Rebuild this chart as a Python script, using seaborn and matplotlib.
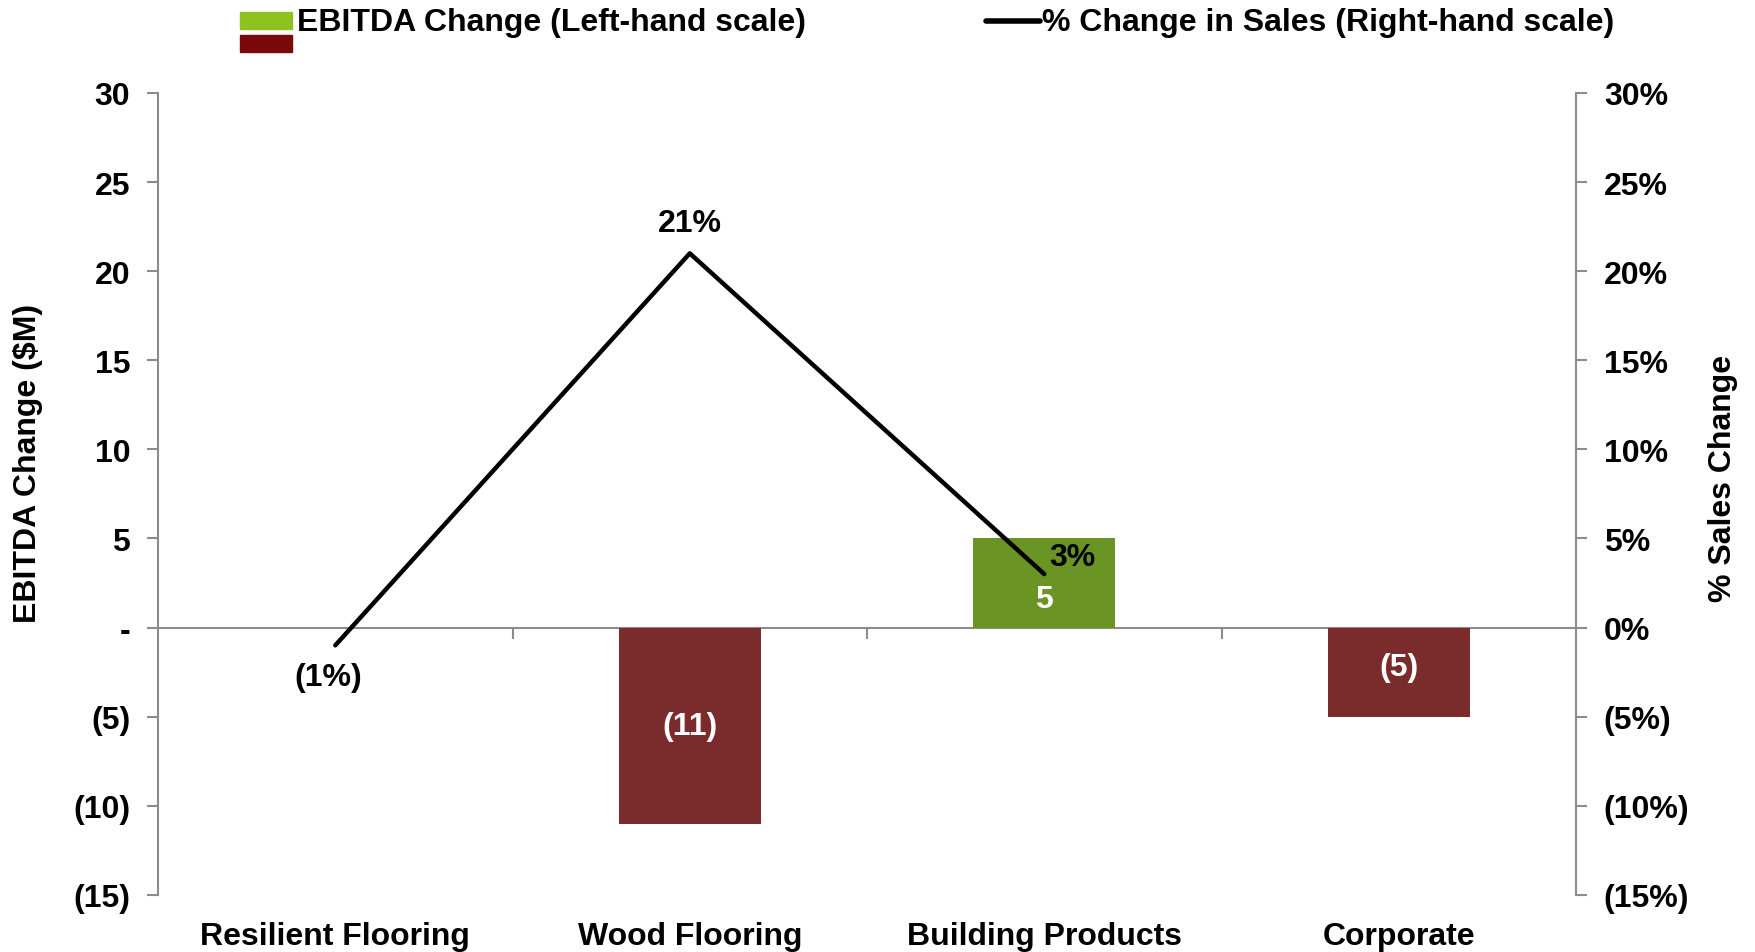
import numpy as np
import pandas as pd
import matplotlib
matplotlib.use("Agg")
import matplotlib.pyplot as plt
from matplotlib.patches import Rectangle
from matplotlib.lines import Line2D
import seaborn as sns

categories = ["Resilient Flooring", "Wood Flooring", "Building Products", "Corporate"]
ebitda_change = [0, -11, 5, -5]
ebitda_labels = ["", "(11)", "5", "(5)"]
sales_change = [-1, 21, 3, np.nan]
sales_labels = ["(1%)", "21%", "3%", ""]

left_ticks = [30, 25, 20, 15, 10, 5, 0, -5, -10, -15]

GREEN = "#6A9424"
RED = "#7A2C2C"
GREY = "#8C8C8C"


def fmt_num(v):
    if v == 0:
        return "-"
    return f"({abs(v)})" if v < 0 else f"{v}"


def fmt_pct(v):
    if v == 0:
        return "0%"
    return f"({abs(v)}%)" if v < 0 else f"{v}%"


def main():
    sns.set_style("white")
    plt.rcParams["font.family"] = ["Liberation Sans", "DejaVu Sans"]
    plt.rcParams["font.weight"] = "bold"
    plt.rcParams["text.color"] = "black"
    plt.rcParams["axes.labelcolor"] = "black"
    plt.rcParams["xtick.labelcolor"] = "black"
    plt.rcParams["ytick.labelcolor"] = "black"

    df = pd.DataFrame({"category": categories, "ebitda": ebitda_change,
                       "sales": sales_change})
    colors = [GREEN if v > 0 else RED for v in ebitda_change]

    fig = plt.figure(figsize=(17.56, 9.53), dpi=100)
    ax = fig.add_axes([0.090, 0.060, 0.8075, 0.8414])

    sns.barplot(data=df, x="category", y="ebitda", hue="category",
                palette=colors, legend=False, width=0.4, saturation=1,
                linewidth=0, ax=ax)
    ax.set_xlim(-0.5, 3.5)
    ax.set_ylim(-15, 30)
    ax.set_yticks(left_ticks)
    ax.set_yticklabels([fmt_num(v) for v in left_ticks], fontsize=23,
                       fontweight="bold", color="black")
    ax.set_xticks(range(len(categories)))
    ax.set_xticklabels(categories, fontsize=23, fontweight="bold",
                       color="black")
    ax.tick_params(axis="x", length=0, pad=19)
    ax.tick_params(axis="y", length=8, width=1.5, color=GREY, pad=12,
                   direction="out", left=True)
    ax.set_xlabel("")
    ax.set_ylabel("EBITDA Change ($M)", fontsize=23, fontweight="bold",
                  color="black")
    ax.yaxis.set_label_coords(-0.0917, 0.539)
    ax.yaxis.label.set_va("center")
    for side in ["top", "bottom", "right"]:
        ax.spines[side].set_visible(False)
    ax.spines["left"].set_color(GREY)
    ax.spines["left"].set_linewidth(1.5)

    # zero line with category separators
    zero_pos = (0 - (-15)) / 45
    sec = ax.secondary_xaxis(zero_pos)
    sec.set_xticks([0.5, 1.5, 2.5])
    sec.set_xticklabels([])
    sec.tick_params(length=8, width=1.5, color=GREY, direction="out")
    sec.spines["bottom"].set_color(GREY)
    sec.spines["bottom"].set_linewidth(1.5)
    for side in ["top", "left", "right"]:
        sec.spines[side].set_visible(False)

    # bar labels
    label_y = [0, -5.5, 1.6, -2.2]
    for i, (lab, y) in enumerate(zip(ebitda_labels, label_y)):
        if lab:
            ax.text(i, y, lab, ha="center", va="center", color="white",
                    fontsize=23, fontweight="bold")

    ax2 = ax.twinx()
    sns.lineplot(x=list(range(len(categories))), y=sales_change, ax=ax2,
                 color="black", linewidth=3.2)
    ax2.set_ylim(-15, 30)
    ax2.set_yticks(left_ticks)
    ax2.set_yticklabels([fmt_pct(v) for v in left_ticks], fontsize=23,
                        fontweight="bold", color="black")
    ax2.tick_params(axis="y", length=8, width=1.5, color=GREY, pad=12,
                    direction="out", right=True)
    ax2.set_ylabel("% Sales Change", fontsize=23, fontweight="bold",
                   color="black")
    ax2.yaxis.set_label_coords(1.1037, 0.52)
    ax2.yaxis.label.set_va("center")
    for side in ["top", "bottom", "left"]:
        ax2.spines[side].set_visible(False)
    ax2.spines["right"].set_color(GREY)
    ax2.spines["right"].set_linewidth(1.5)

    offsets = [(-5, -23), (0, 22), (20, 12), (0, 0)]
    for i, (v, lab, off) in enumerate(zip(sales_change, sales_labels, offsets)):
        if lab:
            ax2.annotate(lab, (i, v), xytext=off, textcoords="offset points",
                         ha="center", va="center", fontsize=23,
                         fontweight="bold", color="black")

    # legend drawn on the figure
    W, H = 1756, 953
    fig.add_artist(Rectangle((240 / W, 1 - 30 / H), 52 / W, 17 / H,
                             transform=fig.transFigure, color="#8DC21F"))
    fig.add_artist(Rectangle((240 / W, 1 - 53 / H), 52 / W, 17 / H,
                             transform=fig.transFigure, color="#7A0A0A"))
    fig.text(297 / W, 1 - 23 / H, "EBITDA Change (Left-hand scale)",
             fontsize=23, fontweight="bold", va="center", ha="left",
             color="black")
    fig.add_artist(Line2D([986 / W, 1040 / W], [1 - 22 / H, 1 - 22 / H],
                          transform=fig.transFigure, color="black",
                          linewidth=4))
    fig.text(1042 / W, 1 - 23 / H, "% Change in Sales (Right-hand scale)",
             fontsize=23, fontweight="bold", va="center", ha="left",
             color="black")

    fig.savefig("out.png", dpi=100)


if __name__ == "__main__":
    main()
